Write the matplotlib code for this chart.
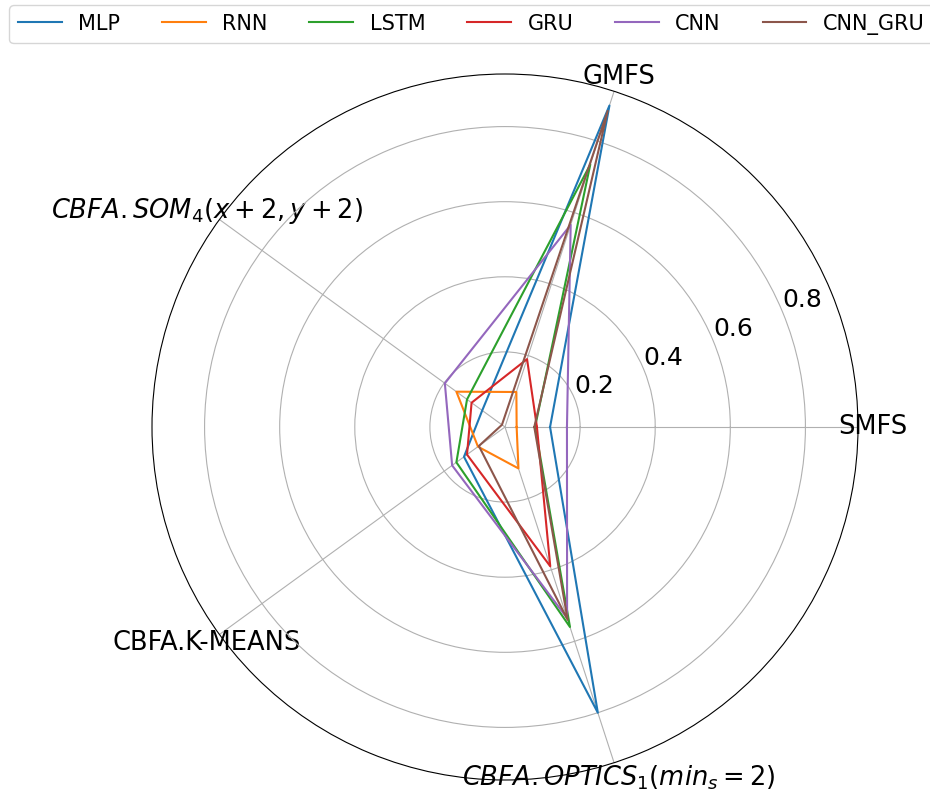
import numpy as np
import matplotlib
matplotlib.use("Agg")
import matplotlib.pyplot as plt

# ---------------------------------------------------------
# Data
# ---------------------------------------------------------
categories = [
    "SMFS",
    "GMFS",
    r"$CBFA.SOM_4(x+2,y+2)$",
    "CBFA.K-MEANS",
    r"$CBFA.OPTICS_1(min_s=2)$",
]

models = ["MLP", "RNN", "LSTM", "GRU", "CNN", "CNN_GRU"]

mlp = [0.12, 0.90, 0.075, 0.135, 0.80]
rnn = [0.031, 0.098, 0.16, 0.089, 0.116]
lstm = [0.08, 0.735, 0.125, 0.16, 0.56]
gru = [0.085, 0.19, 0.11, 0.125, 0.39]
cnn = [0.165, 0.566, 0.198, 0.174, 0.535]
cnn_gru = [0.078, 0.885, 0.01, 0.086, 0.54]

series = [mlp, rnn, lstm, gru, cnn, cnn_gru]

r_ticks = [0.2, 0.4, 0.6, 0.8]
r_tick_labels = ["0.2", "0.4", "0.6", "0.8"]

# ---------------------------------------------------------
# Angles
# ---------------------------------------------------------
angles = np.linspace(0, 2 * np.pi, len(categories), endpoint=False)
angles_closed = np.concatenate([angles, angles[:1]])

# ---------------------------------------------------------
# Figure
# ---------------------------------------------------------
fig = plt.figure(figsize=(9.3, 7.92), dpi=100)
ax = fig.add_axes([152 / 930, 12 / 792, 706 / 930, 706 / 792], polar=True)

for name, vals in zip(models, series):
    vals_closed = list(vals) + [vals[0]]
    ax.plot(angles_closed, vals_closed, linewidth=1.5, label=name)

ax.set_xticks(angles)
ax.set_xticklabels(categories, fontsize=18.5)
ax.tick_params(axis="x", pad=0.5)
ax.set_yticks(r_ticks)
ax.set_yticklabels(r_tick_labels, fontsize=18)
ax.set_ylim(0, 0.94)

fig.legend(
    loc="upper left",
    bbox_to_anchor=(-1 / 930, 1 + 5 / 792),
    ncol=6,
    fontsize=15,
    handlelength=2.1,
    columnspacing=2.0,
)

# ---------------------------------------------------------
# Save
# ---------------------------------------------------------
plt.savefig("out.png", dpi=100)
